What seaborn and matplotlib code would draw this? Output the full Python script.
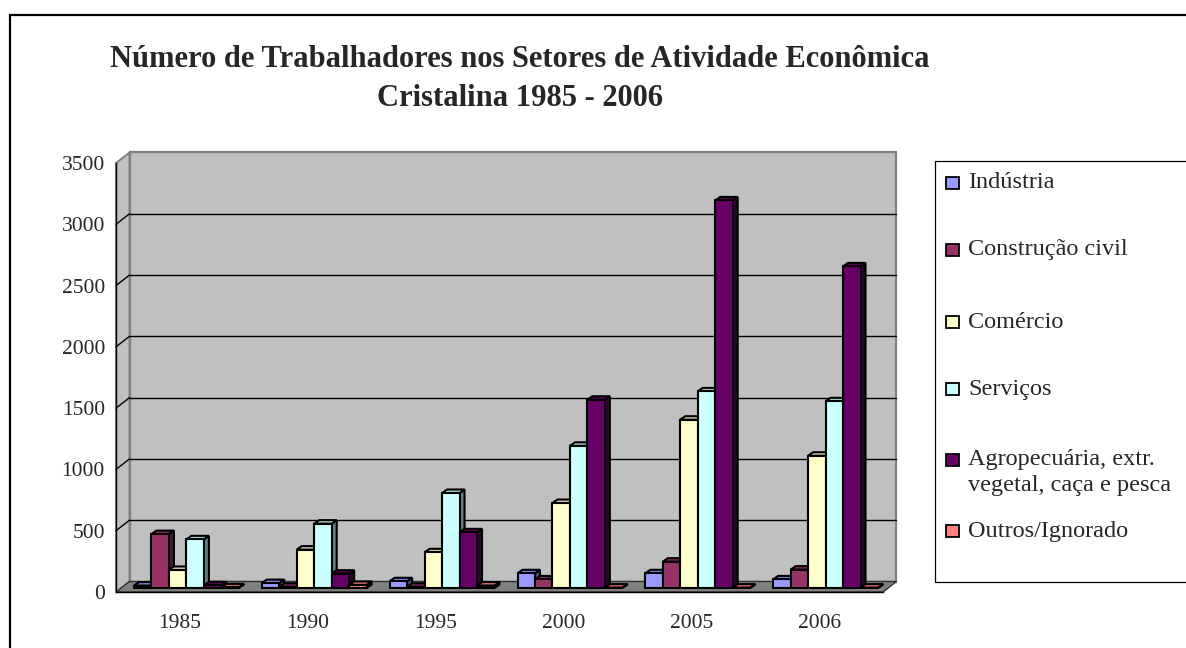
import numpy as np
import pandas as pd
import matplotlib
matplotlib.use("Agg")
import matplotlib.pyplot as plt
from matplotlib.patches import Rectangle, Polygon
import seaborn as sns

# dados
anos = ["1985", "1990", "1995", "2000", "2005", "2006"]
setores = ["Indústria", "Construção civil", "Comércio", "Serviços",
           "Agropecuária, extr.\nvegetal, caça e pesca", "Outros/Ignorado"]
industria = [20, 40, 55, 120, 120, 70]
construcao = [440, 10, 10, 70, 215, 150]
comercio = [147, 313, 291, 693, 1373, 1079]
servicos = [397, 525, 775, 1160, 1604, 1523]
agropecuaria = [22, 117, 454, 1536, 3162, 2624]
outros = [5, 25, 20, 3, 3, 3]
cores = ["#9999FF", "#993366", "#FFFFCC", "#CCFFFF", "#660066", "#FF8080"]
yticks = [0, 500, 1000, 1500, 2000, 2500, 3000, 3500]

series = [industria, construcao, comercio, servicos, agropecuaria, outros]
df = pd.DataFrame({
    "ano": anos * len(setores),
    "setor": [s for s in setores for _ in anos],
    "valor": [v for serie in series for v in serie],
})

sns.set_style("white")
plt.rcParams["font.family"] = ["Liberation Serif", "DejaVu Serif"]

W, H = 1186, 648
fig = plt.figure(figsize=(W / 100, H / 100), dpi=100)

# caixa frontal do grafico (pixels)
L, R, B, T = 116, 883, 592, 163
ax = fig.add_axes([L / W, 1 - B / H, (R - L) / W, (B - T) / H])
ax.patch.set_visible(False)

px_x = (R - L) / 6
px_y = (B - T) / 3500


def dx(p):
    return p / px_x


def dy(p):
    return p / px_y


sns.barplot(data=df, x="ano", y="valor", hue="setor", hue_order=setores,
            order=anos, palette=cores, width=0.82, saturation=1,
            edgecolor="black", linewidth=1.5, errorbar=None, legend=False, ax=ax)
bars = list(ax.patches)

ax.set_xlim(-0.5, 5.5)
ax.set_ylim(0, 3500)

""" efeito 3D: paredes e piso """
DX, DY = dx(13.5), dy(10.5)
ax.add_patch(Rectangle((-0.5 + DX, DY), 6, 3500, fc="#C0C0C0", ec="#808080",
                       lw=1.6, zorder=0, clip_on=False))
ax.add_patch(Polygon([(-0.5, 0), (-0.5 + DX, DY), (-0.5 + DX, 3500 + DY), (-0.5, 3500)],
                     closed=True, fc="#C0C0C0", ec="#808080", lw=1.4, zorder=0.1, clip_on=False))
ax.add_patch(Polygon([(-0.5, 0), (5.5, 0), (5.5 + DX, DY), (-0.5 + DX, DY)],
                     closed=True, fc="#808080", ec="#303030", lw=1.0, zorder=0.2, clip_on=False))
for v in yticks[1:-1]:
    ax.plot([-0.5 + DX, 5.5 + DX], [v + DY, v + DY], color="black", lw=1.0,
            zorder=0.3, clip_on=False)
    ax.plot([-0.5, -0.5 + DX], [v, v + DY], color="black", lw=1.0,
            zorder=0.3, clip_on=False)

""" barras em 3D """
bx, by = dx(5), dy(3.5)
for p in bars:
    x0 = p.get_x() + dx(6.5)
    y0 = dy(4)
    w, h = p.get_width(), p.get_height()
    p.set_x(x0)
    p.set_y(y0)
    z = 2 + x0 * 0.01
    p.set_zorder(z + 0.0005)
    rgb = np.array(p.get_facecolor()[:3])
    side = [(x0 + w, y0), (x0 + w + bx, y0 + by), (x0 + w + bx, y0 + h + by), (x0 + w, y0 + h)]
    top = [(x0, y0 + h), (x0 + bx, y0 + h + by), (x0 + w + bx, y0 + h + by), (x0 + w, y0 + h)]
    ax.add_patch(Polygon(side, closed=True, fc=rgb * 0.5, ec="black", lw=1.5,
                         zorder=z, clip_on=False))
    ax.add_patch(Polygon(top, closed=True, fc=rgb * 0.85, ec="black", lw=1.5,
                         zorder=z, clip_on=False))

""" eixos """
for s in ["top", "right"]:
    ax.spines[s].set_visible(False)
for s in ["left", "bottom"]:
    ax.spines[s].set_color("black")
    ax.spines[s].set_linewidth(1.0)
    ax.spines[s].set_zorder(3)
ax.set_yticks(yticks)
ax.set_yticklabels([str(v) for v in yticks])
ax.set_xticks(range(len(anos)))
ax.set_xticklabels(anos)
ax.set_xticks(np.arange(-0.5, 6, 1), minor=True)
ax.tick_params(axis="y", direction="out", length=6, width=1, color="black",
               labelsize=15.5, pad=2)
ax.tick_params(axis="x", which="major", length=0, labelsize=15.5, pad=16)
ax.tick_params(axis="x", which="minor", direction="out", length=6, width=1, color="black")
ax.set_xlabel("")
ax.set_ylabel("")

""" titulo """
fig.text(520 / W, 1 - 79 / H,
         "Número de Trabalhadores nos Setores de Atividade Econômica\nCristalina 1985 - 2006",
         ha="center", va="center", fontsize=22, fontweight="bold", linespacing=1.42,
         multialignment="center")

""" legenda """
fig.add_artist(Rectangle((935 / W, 1 - 582 / H), (1200 - 935) / W, (582 - 161) / H,
                         transform=fig.transFigure, fill=False, ec="black", lw=0.9))
ys = [183, 250, 322, 389, 460, 531]
for label, cor, yy in zip(setores, cores, ys):
    fig.add_artist(Rectangle((946 / W, 1 - (yy + 6) / H), 13 / W, 12 / H,
                             transform=fig.transFigure, fc=cor, ec="black", lw=1.3))
    for j, linha in enumerate(label.split("\n")):
        fig.text(968 / W, 1 - (yy + j * 26) / H, linha, ha="left", va="center",
                 fontsize=17.5)

""" moldura externa """
fig.add_artist(Rectangle((10 / W, -0.05), 1.2, 1 - 15 / H + 0.05,
                         transform=fig.transFigure, fill=False, ec="black", lw=1.6))

fig.savefig("out.png", dpi=100)
